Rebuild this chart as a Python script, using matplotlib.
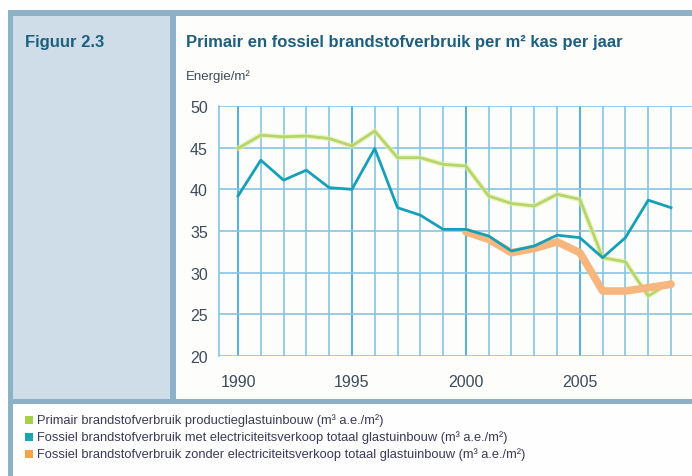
import matplotlib
matplotlib.use("Agg")
import matplotlib.pyplot as plt
from matplotlib.patches import Rectangle

# ---- data -------------------------------------------------------------
years = list(range(1990, 2010))
primair = [44.9, 46.5, 46.3, 46.4, 46.1, 45.2, 47.0, 43.8, 43.8, 43.0,
           42.8, 39.2, 38.3, 38.0, 39.4, 38.8, 31.8, 31.3, 27.2, 28.9]
fossiel_met = [39.2, 43.5, 41.1, 42.3, 40.2, 40.0, 44.9, 37.8, 36.9, 35.2,
               35.2, 34.4, 32.6, 33.2, 34.5, 34.2, 31.8, 34.2, 38.7, 37.8]
years_zonder = list(range(2000, 2010))
fossiel_zonder = [34.9, 34.0, 32.4, 32.9, 33.7, 32.4, 27.8, 27.8, 28.2, 28.6]

y_ticks = [20, 25, 30, 35, 40, 45, 50]
x_labels = [1990, 1995, 2000, 2005]

legend_labels = [
    "Primair brandstofverbruik productieglastuinbouw (m\u00b3 a.e./m\u00b2)",
    "Fossiel brandstofverbruik met electriciteitsverkoop totaal glastuinbouw (m\u00b3 a.e./m\u00b2)",
    "Fossiel brandstofverbruik zonder electriciteitsverkoop totaal glastuinbouw (m\u00b3 a.e./m\u00b2)",
]

# ---- styling ----------------------------------------------------------
W, H = 692, 477
DPI = 100
FRAME = "#8db1c6"
PANEL = "#cfdde8"
GRID = "#86c6e1"
GRID_MAJOR = "#5fb0d4"
TITLE_C = "#1d5f7f"
TEXT_C = "#3e4b5a"
GREEN = "#b4d66c"
TEAL = "#16a0b7"
ORANGE = "#f6b67e"
SQ_GREEN = "#a6cf4b"
SQ_TEAL = "#1aa6b1"
SQ_ORANGE = "#f7a448"

plt.rcParams["font.family"] = ["Liberation Sans Narrow", "Liberation Sans", "DejaVu Sans"]

fig = plt.figure(figsize=(W / DPI, H / DPI), dpi=DPI)
fig.patch.set_facecolor("#fefefe")


def px_rect(x0, y0, x1, y1, color, z=0):
    """Rectangle given in pixel coordinates measured from the top-left."""
    fig.patches.append(Rectangle((x0 / W, 1 - y1 / H), (x1 - x0) / W, (y1 - y0) / H,
                                 transform=fig.transFigure, facecolor=color,
                                 edgecolor="none", zorder=z))


# frame and panels
px_rect(176, 17, W, 400, "#fdfdfc")
px_rect(13, 17, 170, 400, PANEL)
px_rect(8, 11, W, 17, FRAME)
px_rect(8, 11, 13, H, FRAME)
px_rect(170, 17, 176, 400, FRAME)
px_rect(8, 400, W, 405, FRAME)

# header texts
fig.text(25 / W, 1 - 42 / H, "Figuur 2.3", fontsize=12, fontweight="bold",
         color=TITLE_C, va="center", ha="left")
fig.text(186 / W, 1 - 42 / H,
         "Primair en fossiel brandstofverbruik per m\u00b2 kas per jaar",
         fontsize=12, fontweight="bold", color=TITLE_C, va="center", ha="left")
fig.text(186 / W, 1 - 77 / H, "Energie/m\u00b2", fontsize=9.5,
         color=TEXT_C, va="center", ha="left")

# ---- chart ------------------------------------------------------------
ax_left, ax_right = 219, W
ax_top, ax_bottom = 107, 357
ax = fig.add_axes([ax_left / W, 1 - ax_bottom / H,
                   (ax_right - ax_left) / W, (ax_bottom - ax_top) / H])
ax.set_zorder(5)
ax.set_facecolor("none")

px_per_year = (671 - 238) / 19.0
x0 = 1990 - (238 - ax_left) / px_per_year
x1 = 1990 + (ax_right - 238) / px_per_year
ax.set_xlim(x0, x1)
ax.set_ylim(20, 50)

# grid
for yr in years:
    major = yr % 5 == 0
    ax.axvline(yr, color=GRID_MAJOR if major else GRID,
               lw=1.5 if major else 1.2, zorder=1)
for v in y_ticks:
    ax.axhline(v, color=GRID, lw=1.2, zorder=1)

for side in ("top", "right", "bottom"):
    ax.spines[side].set_visible(False)
ax.spines["left"].set_color(GRID)
ax.spines["left"].set_linewidth(1.2)

ax.set_yticks(y_ticks)
ax.set_xticks(x_labels)
ax.tick_params(length=0, labelsize=11.5, labelcolor=TEXT_C)
ax.tick_params(axis="y", pad=8)
ax.tick_params(axis="x", pad=13)

# series
ax.plot(years, primair, color="#e8efa0", lw=4.0, alpha=0.6, zorder=2,
        solid_capstyle="round")
ax.plot(years, primair, color=GREEN, lw=2.0, zorder=3)
ax.plot(years_zonder, fossiel_zonder, color=ORANGE, lw=5.5, zorder=4,
        solid_joinstyle="round", solid_capstyle="round")
ax.plot(years, fossiel_met, color=TEAL, lw=2.0, zorder=5,
        solid_joinstyle="round")

# ---- legend -----------------------------------------------------------
sq_colors = [SQ_GREEN, SQ_TEAL, SQ_ORANGE]
rows = [421, 438, 455]
for label, c, yc in zip(legend_labels, sq_colors, rows):
    px_rect(25, yc - 4, 33, yc + 4, c, z=2)
    fig.text(37 / W, 1 - yc / H, label, fontsize=9.3, color="#3b3a58",
             va="center", ha="left")

fig.savefig("out.png", dpi=DPI, facecolor=fig.get_facecolor())
